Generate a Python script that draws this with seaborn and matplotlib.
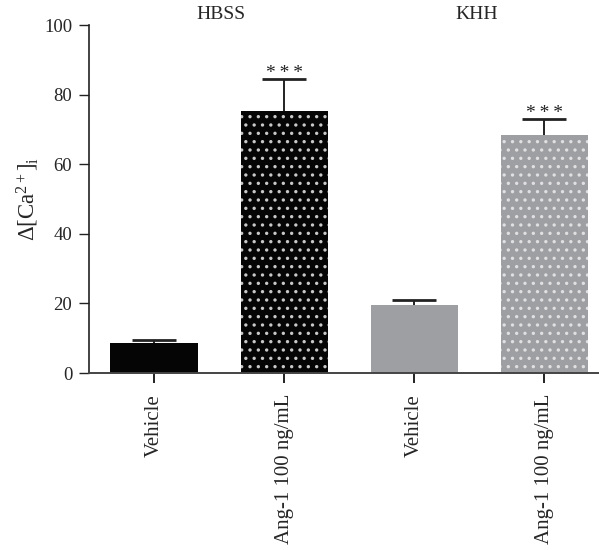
import matplotlib
matplotlib.use("Agg")
import matplotlib.pyplot as plt
import seaborn as sns
import pandas as pd
import numpy as np

# ---- data ----
categories = ["Vehicle", "Ang-1 100 ng/mL", "Vehicle ", "Ang-1 100 ng/mL "]
tick_labels = ["Vehicle", "Ang-1 100 ng/mL", "Vehicle", "Ang-1 100 ng/mL"]
means = [8.6, 75.3, 19.5, 68.3]
sem = [0.9, 9.2, 1.5, 4.7]
groups = ["HBSS", "KHH"]
signif = ["", "*\u2009*\u2009*", "", "*\u2009*\u2009*"]

bar_colors = ["#050505", "#050505", "#9e9fa2", "#9e9fa2"]
hatches = [None, "..", None, ".."]
dot_colors = [None, "#c8c8c8", None, "#e0e0e2"]

sns.set_theme(style="ticks")
plt.rcParams["font.family"] = ["Liberation Serif", "DejaVu Serif"]
plt.rcParams["mathtext.fontset"] = "custom"
plt.rcParams["mathtext.rm"] = "Liberation Serif"
plt.rcParams["mathtext.it"] = "Liberation Serif:italic"
plt.rcParams["hatch.linewidth"] = 1.2

df = pd.DataFrame({"cat": categories, "val": means})

fig = plt.figure(figsize=(5.99, 5.5), dpi=100)
ax = fig.add_axes([89 / 599, 1 - 373 / 550, 510 / 599, 348 / 550])

sns.barplot(data=df, x="cat", y="val", hue="cat", palette=bar_colors,
            width=0.67, errorbar=None, legend=False, ax=ax, saturation=1,
            linewidth=0)

for p, h, dc in zip(ax.patches, hatches, dot_colors):
    if h:
        p.set_hatch(h)
        p.set_edgecolor(dc)
        p.set_linewidth(0)

x = np.arange(len(means))
_, caps, _ = ax.errorbar(x, means, yerr=[np.zeros(len(sem)), sem], fmt="none",
                         ecolor="#222222", elinewidth=1.4, capsize=15.8,
                         capthick=2.0, zorder=3)
caps[0].set_visible(False)

for xi, m, s, t in zip(x, means, sem, signif):
    if t:
        ax.text(xi, m + s + 0.3, t, ha="center", va="baseline", fontsize=14,
                color="#222222")

ax.set_xlim(-0.5, 3.42)
ax.set_ylim(0, 100)
ax.set_yticks([0, 20, 40, 60, 80, 100])
ax.set_xticks(x)
ax.set_xticklabels(tick_labels, rotation=90, fontsize=15)
ax.tick_params(axis="y", labelsize=13.5, length=7, width=1.0, pad=5, color="#222222")
ax.tick_params(axis="x", length=7, width=1.4, pad=8, color="#222222")
ax.set_xlabel("")
ax.set_ylabel(r"$\Delta[\mathrm{Ca}^{2+}]_{\mathrm{i}}$", fontsize=16.5, labelpad=2)

sns.despine(ax=ax)
ax.spines["left"].set_linewidth(1.2)
ax.spines["bottom"].set_linewidth(1.4)
ax.spines["left"].set_color("#222222")
ax.spines["bottom"].set_color("#444444")

ax.text(0.515, 102.9, groups[0], ha="center", va="center", fontsize=14, clip_on=False)
ax.text(2.48, 102.9, groups[1], ha="center", va="center", fontsize=14, clip_on=False)

fig.savefig("out.png", dpi=100)
